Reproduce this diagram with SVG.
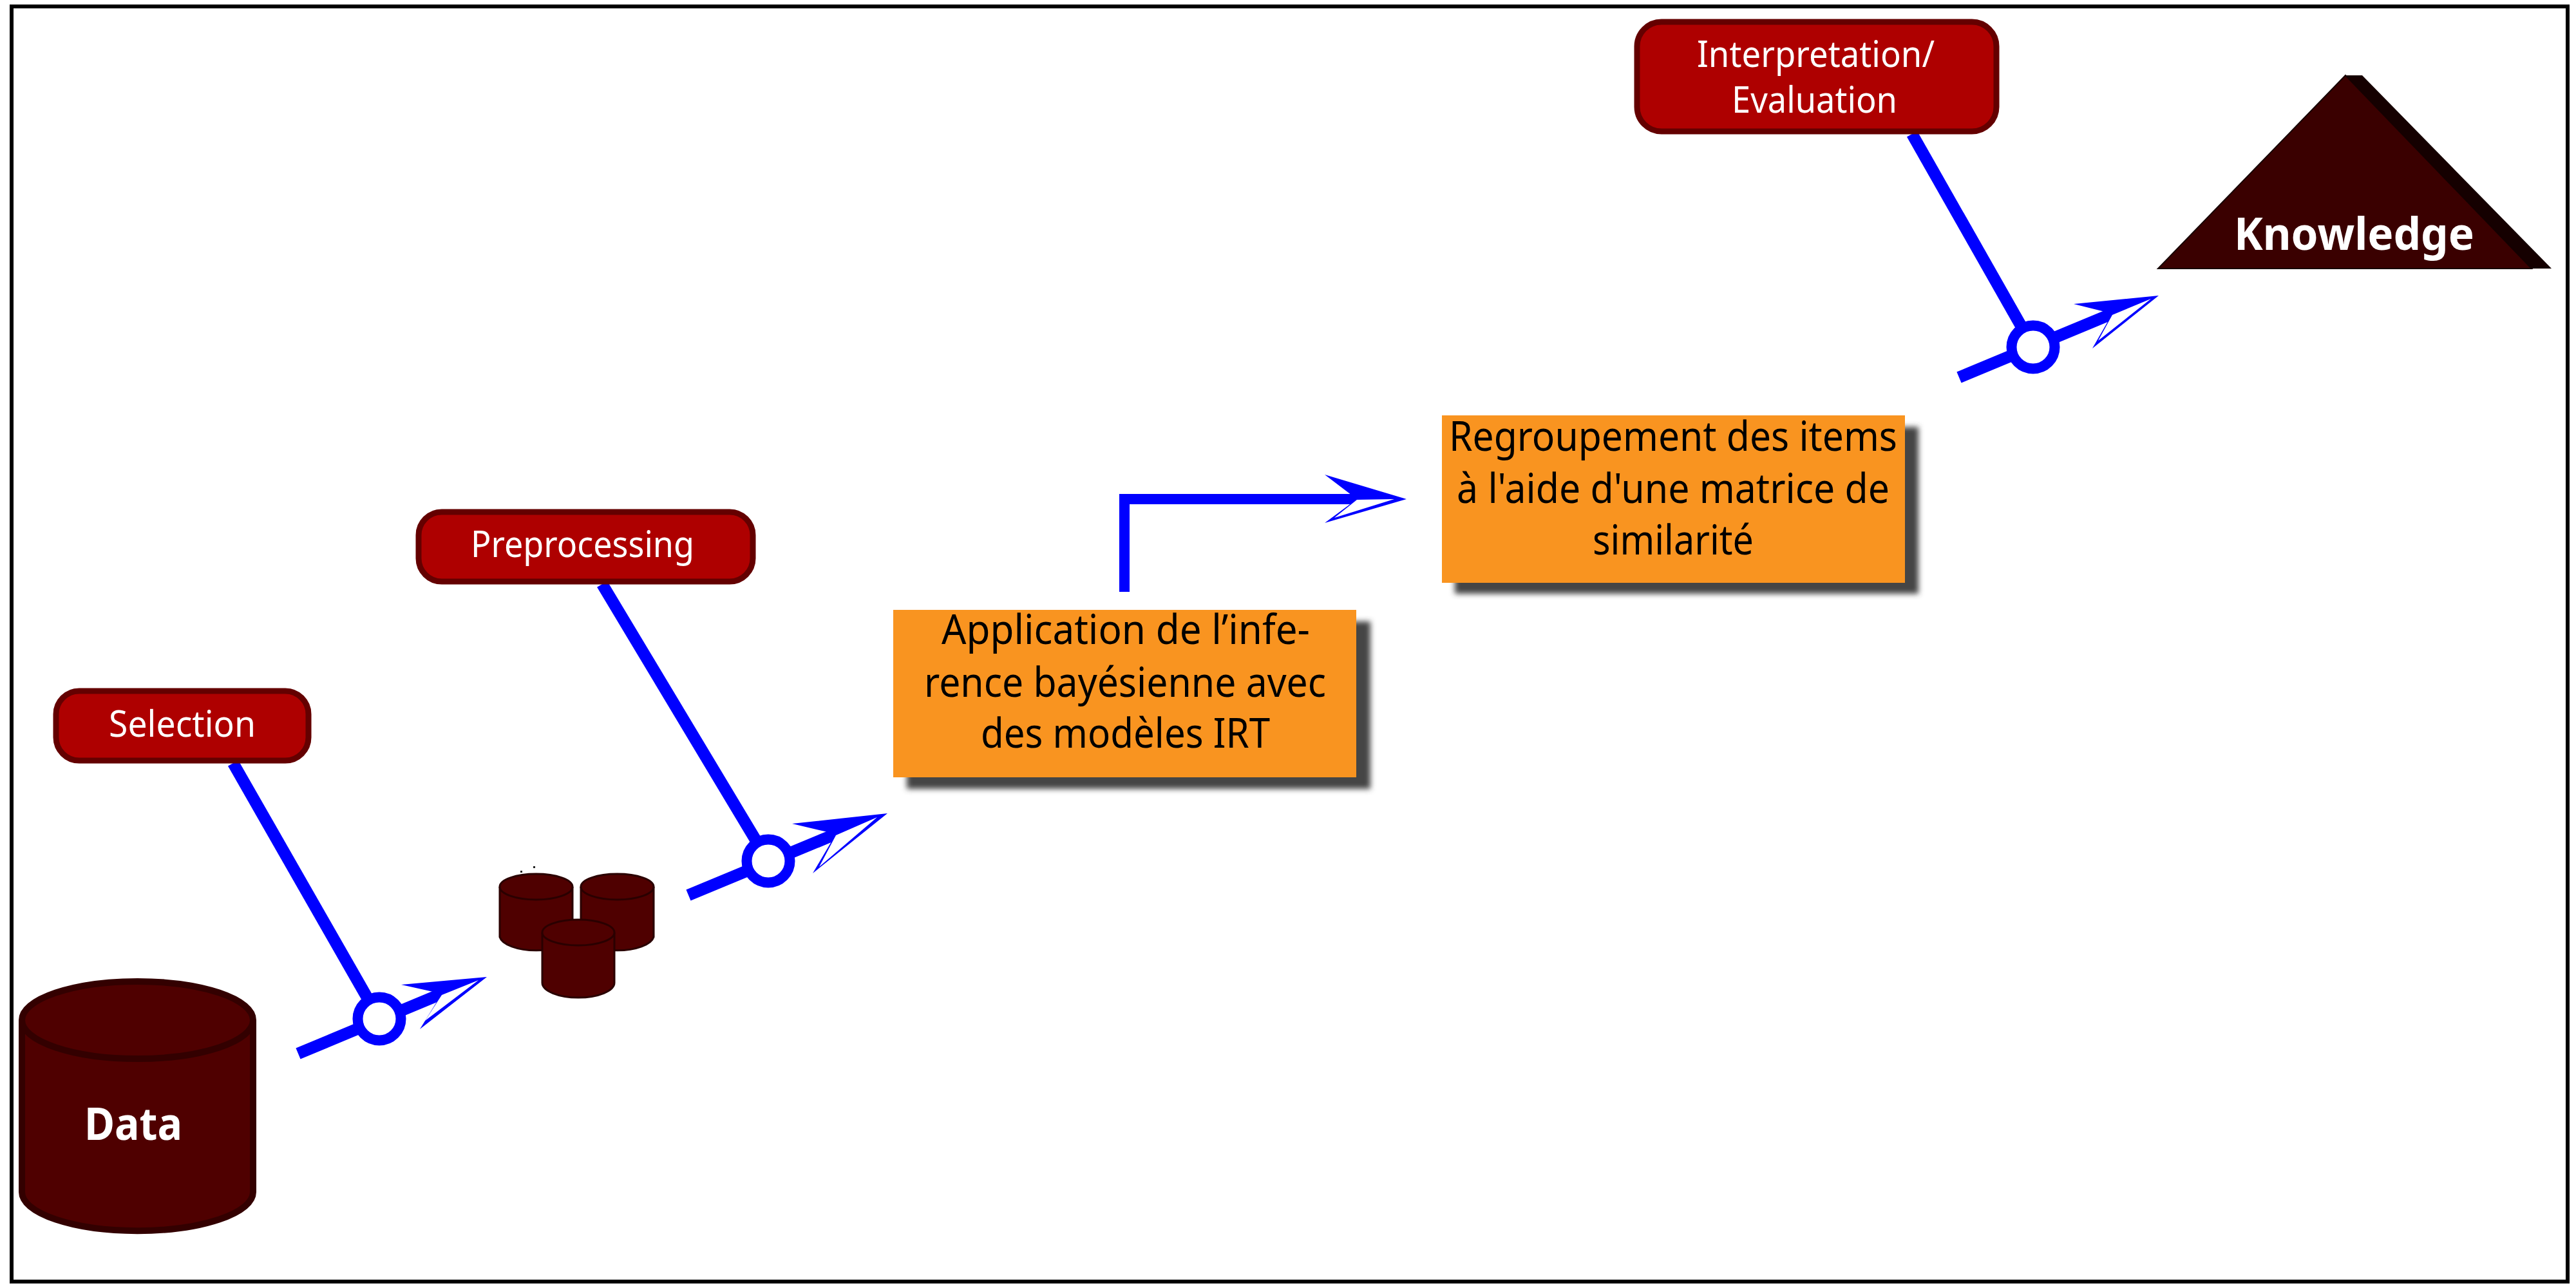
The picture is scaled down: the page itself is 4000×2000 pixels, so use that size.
<svg xmlns="http://www.w3.org/2000/svg" width="4000" height="2000" viewBox="0 0 4000 2000">
<style>
.t{font-family:"Noto Sans","Open Sans","Liberation Sans",sans-serif}
.lab{font-size:56px;fill:#fff}
.big{font-size:70px;font-weight:700;fill:#fff}
.box{font-size:63px;fill:#000}
.tag{fill:#ae0000;stroke:#640000;stroke-width:9}
.org{fill:#f99420}
.shd{fill:#444;filter:url(#b)}
.cyl{fill:#4f0000;stroke:#2a0000;stroke-width:3}
.ln{fill:none;stroke:#00f;stroke-width:18.500}
.el{fill:none;stroke:#00f;stroke-width:16}
.hf{fill:#00f}
.hw{fill:#fff}
.rg{fill:#fff;stroke:#00f;stroke-width:16}
.dot{fill:#222}
</style>
<defs><filter id="b" x="-5%" y="-5%" width="110%" height="110%"><feGaussianBlur stdDeviation="4"/></filter></defs>
<rect width="4000" height="2000" fill="#fff"/>
<rect id="frame" x="18" y="10" width="3969" height="1980" fill="none" stroke="#000" stroke-width="6"/>

<g id="connectors">
<path class="ln" d="M362 1185L589 1582"/>
<path class="ln" d="M463 1636L686 1543"/>
<polygon class="hf" points="756,1517 623,1529 686,1543 652,1598"/>
<polygon class="hw" points="743,1522 686,1545 660,1585"/>
<circle class="rg" cx="589" cy="1582" r="33.500"/>

<path class="ln" d="M935 907L1193 1337"/>
<path class="ln" d="M1069 1390L1298 1295"/>
<polygon class="hf" points="1378,1263 1230,1279 1298,1295 1262,1356"/>
<polygon class="hw" points="1362,1269 1298,1297 1272,1346"/>
<circle class="rg" cx="1193" cy="1337" r="33.500"/>

<path class="el" d="M1746 919V775H2107"/>
<polygon class="hf" points="2184,775 2057,737 2107,775 2057,812"/>
<polygon class="hw" points="2165,775 2107,776 2072,804"/>

<path class="ln" d="M2969 208L3157 539"/>
<path class="ln" d="M3042 586L3280 487"/>
<polygon class="hf" points="3352,459 3220,472 3280,487 3249,541"/>
<polygon class="hw" points="3340,464 3280,489 3258,529"/>
<circle class="rg" cx="3157" cy="539" r="33.500"/>
</g>

<g id="data">
<path d="M34 1584V1851A179 60 0 0 0 393 1851V1584" fill="#4f0000" stroke="#330000" stroke-width="10"/>
<ellipse cx="213.500" cy="1584" rx="179.500" ry="60" fill="#4f0000" stroke="#330000" stroke-width="10"/>
<text class="t big" x="131" y="1770" textLength="152" lengthAdjust="spacingAndGlyphs">Data</text>
</g>

<g id="selection">
<rect class="tag" x="87" y="1073" width="392" height="108" rx="36"/>
<text class="t lab" x="169" y="1144" textLength="228" lengthAdjust="spacingAndGlyphs">Selection</text>
</g>

<g id="datasets">
<path class="dot" d="M808 1352h3v3h-3zM828 1345h3v3h-3zM796 1376h3v3h-3zM820 1431h3v3h-3z"/>
<path class="cyl" d="M776 1377V1455A57 24 0 0 0 889 1455V1377"/>
<ellipse class="cyl" cx="832.500" cy="1377" rx="56.500" ry="20"/>
<path class="cyl" d="M902 1377V1455A57 24 0 0 0 1015 1455V1377"/>
<ellipse class="cyl" cx="958.500" cy="1377" rx="56.500" ry="20"/>
<path class="cyl" d="M842 1448V1526A56 23 0 0 0 954 1526V1448"/>
<ellipse class="cyl" cx="898" cy="1448" rx="56" ry="20"/>
</g>

<g id="preprocessing">
<rect class="tag" x="650" y="795" width="519" height="108" rx="36"/>
<text class="t lab" x="731" y="865" textLength="347" lengthAdjust="spacingAndGlyphs">Preprocessing</text>
</g>

<g id="inference">
<rect class="shd" x="1408" y="965" width="720" height="260"/>
<rect class="org" x="1387" y="947" width="719" height="260"/>
<text class="t box" x="1462" y="1000" textLength="572" lengthAdjust="spacingAndGlyphs">Application de l’infe-</text>
<text class="t box" x="1435" y="1082" textLength="624" lengthAdjust="spacingAndGlyphs">rence bayésienne avec</text>
<text class="t box" x="1523" y="1161" textLength="449" lengthAdjust="spacingAndGlyphs">des modèles IRT</text>
</g>

<g id="grouping">
<rect class="shd" x="2259" y="663" width="720" height="259"/>
<rect class="org" x="2239" y="645" width="719" height="260"/>
<text class="t box" x="2250" y="700" textLength="696" lengthAdjust="spacingAndGlyphs">Regroupement des items</text>
<text class="t box" x="2262" y="781" textLength="672" lengthAdjust="spacingAndGlyphs">à l'aide d'une matrice de</text>
<text class="t box" x="2473" y="861" textLength="250" lengthAdjust="spacingAndGlyphs">similarité</text>
</g>

<g id="interpretation">
<rect class="tag" x="2542" y="34" width="558" height="170" rx="38"/>
<text class="t lab" x="2635" y="104" textLength="369" lengthAdjust="spacingAndGlyphs">Interpretation/</text>
<text class="t lab" x="2689" y="175" textLength="257" lengthAdjust="spacingAndGlyphs">Evaluation</text>
</g>

<g id="knowledge">
<polygon points="3642,117 3668,117 3962,417 3931,417" fill="#150000"/>
<polygon points="3642,117 3351,417 3931,417" fill="#3a0000" stroke="#150000" stroke-width="2"/>
<text class="t big" x="3469" y="388" textLength="373" lengthAdjust="spacingAndGlyphs">Knowledge</text>
</g>
</svg>
